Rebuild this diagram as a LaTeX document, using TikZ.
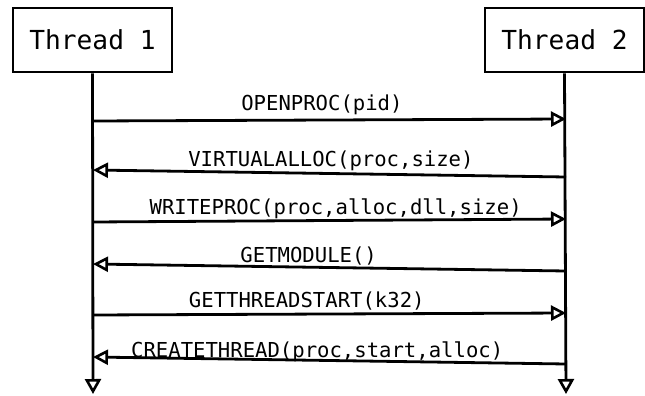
\documentclass[tikz,border=0pt]{standalone}
\usepackage{fontspec}
\setmonofont{DejaVu Sans Mono}
\usetikzlibrary{arrows.meta}

\tikzset{
  thread/.style={draw, line width=2.6pt, minimum width=159pt, minimum height=64pt, font=\ttfamily\fontsize{26.2}{26.2}\selectfont},
  msg/.style={line width=2.8pt, -{Triangle[open, length=15pt, width=15pt, line width=2.6pt]}},
  life/.style={line width=2.8pt, -{Triangle[open, length=15pt, width=16pt, line width=2.6pt]}},
  lbl/.style={anchor=base, inner sep=0pt, font=\ttfamily\fontsize{20.6}{20.6}\selectfont}
}

\begin{document}
\begin{tikzpicture}[x=1pt, y=-1pt]
    \useasboundingbox (0,0) rectangle (645,396);

    % Threads
    \node[thread] (t1) at (92.5,40) {Thread 1};
    \node[thread] (t2) at (564.5,40) {Thread 2};

    % Lifeline ends
    \coordinate (e1) at (93,394);
    \coordinate (e2) at (566,394);
    \draw[life] (t1.south) -- (e1);
    \draw[life] (t2.south) -- (e2);

    % Message end points
    \coordinate (a1) at (93,121);  \coordinate (b1) at (566,119);
    \coordinate (a2) at (93,170);  \coordinate (b2) at (566,177);
    \coordinate (a3) at (93,222);  \coordinate (b3) at (566,219);
    \coordinate (a4) at (93,264);  \coordinate (b4) at (566,271);
    \coordinate (a5) at (93,315);  \coordinate (b5) at (566,313);
    \coordinate (a6) at (93,357);  \coordinate (b6) at (566,364);

    % Messages
    \draw[msg] (a1) -- node[lbl, pos=0.484, yshift=10pt] (m1) {OPENPROC(pid)} (b1);
    \draw[msg] (b2) -- node[lbl, pos=0.497, yshift=7pt] (m2) {VIRTUALALLOC(proc,size)} (a2);
    \draw[msg] (a3) -- node[lbl, pos=0.513, yshift=5.5pt] (m3) {WRITEPROC(proc,alloc,dll,size)} (b3);
    \draw[msg] (b4) -- node[lbl, pos=0.544, yshift=5pt] (m4) {GETMODULE()} (a4);
    \draw[msg] (a5) -- node[lbl, pos=0.452, yshift=7pt] (m5) {GETTHREADSTART(k32)} (b5);
    \draw[msg] (b6) -- node[lbl, pos=0.526, yshift=3pt] (m6) {CREATETHREAD(proc,start,alloc)} (a6);
\end{tikzpicture}
\end{document}
